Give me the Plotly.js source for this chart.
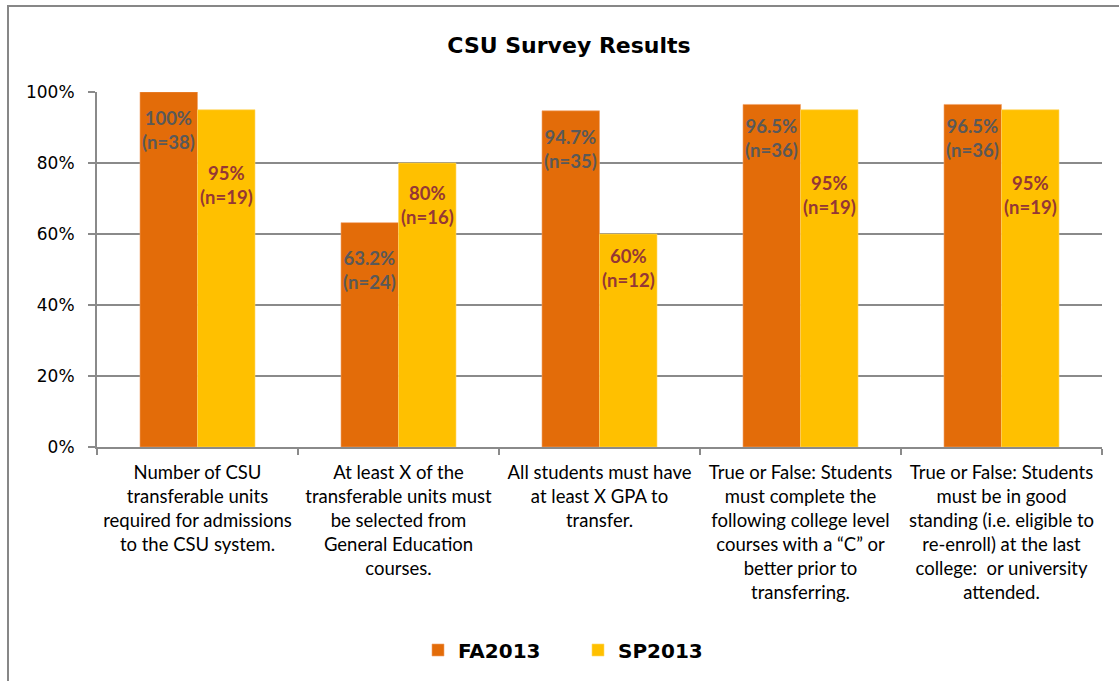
<!DOCTYPE html>
<html>
<head>
<meta charset="utf-8">
<script src="https://cdn.plot.ly/plotly-3.0.1.min.js"></script>
<style>
  html, body { margin: 0; padding: 0; overflow: hidden; background: #fff; }
  #chart { position: absolute; left: 0; top: 0; width: 1119px; height: 681px; }
  #frame { position: absolute; left: 7px; top: 5px; width: 1300px; height: 900px;
           border: 2px solid #878787; pointer-events: none; }
</style>
</head>
<body>
<div id="chart"></div>
<div id="frame"></div>
<script>
// ---- data ----
const categories = [
  "Number of CSU<br>transferable units<br>required for admissions<br>to the CSU system.",
  "At least X of the<br>transferable units must<br>be selected from<br>General Education<br>courses.",
  "All students must have<br>at least X GPA to<br>transfer.",
  "True or False: Students<br>must complete the<br>following college level<br>courses with a \u201cC\u201d or<br>better prior to<br>transferring.",
  "True or False: Students<br>must be in good<br>standing (i.e. eligible to<br>re-enroll) at the last<br>college:  or university<br>attended."
];
const seriesNames = ["FA2013", "SP2013"];
const fa2013 = [100, 63.2, 94.7, 96.5, 96.5];
const sp2013 = [95, 80, 60, 95, 95];
const faN = [38, 24, 35, 36, 36];
const spN = [19, 16, 12, 19, 19];
const yTickVals = [0, 20, 40, 60, 80, 100];
const yTickText = ["0%", "20%", "40%", "60%", "80%", "100%"];

// ---- styling ----
const faColor = "#E36C09";
const spColor = "#FFC000";
const faLabelColor = "#595959";
const spLabelColor = "#953735";
const gridColor = "#8a8a8a";
const bargap = 0.428;
// label offsets (px below bar top of first text line)
const faLabelOffset = [26, 35, 26, 22, 22];
const spLabelOffset = [63, 30, 22, 73, 73];

function fmt(v) { return (Math.round(v * 10) / 10) + "%"; }

const traces = [
  { type: "bar", name: seriesNames[0], x: categories, y: fa2013,
    marker: { color: faColor, line: { color: "#F2A36A", width: 0.6 } }, hoverinfo: "none" },
  { type: "bar", name: seriesNames[1], x: categories, y: sp2013,
    marker: { color: spColor, line: { color: "#FFD966", width: 0.6 } }, hoverinfo: "none" }
];

const annotations = [];
const half = (1 - bargap) / 4;
const lblFont = { family: "Lato, 'Liberation Sans', sans-serif", size: 18.5, weight: 700 };
for (let i = 0; i < categories.length; i++) {
  annotations.push({
    x: i - half, y: fa2013[i], xref: "x", yref: "y",
    text: "<b>" + fmt(fa2013[i]) + "<br>(n=" + faN[i] + ")</b>",
    showarrow: false, xanchor: "center", yanchor: "middle",
    yshift: -(faLabelOffset[i] + 12),
    font: Object.assign({}, lblFont, { color: faLabelColor })
  });
  annotations.push({
    x: i + half, y: sp2013[i], xref: "x", yref: "y",
    text: "<b>" + fmt(sp2013[i]) + "<br>(n=" + spN[i] + ")</b>",
    showarrow: false, xanchor: "center", yanchor: "middle",
    yshift: -(spLabelOffset[i] + 12),
    font: Object.assign({}, lblFont, { color: spLabelColor })
  });
}

const layout = {
  width: 1119, height: 681,
  margin: { l: 97, r: 17, t: 92, b: 234, autoexpand: false },
  paper_bgcolor: "rgba(0,0,0,0)", plot_bgcolor: "#fff",
  barmode: "group", bargap: bargap, bargroupgap: 0,
  title: { text: "<b>CSU Survey Results</b>", x: 569 / 1119, xanchor: "center", xref: "container",
           y: 1 - 45 / 681, yanchor: "middle", yref: "container",
           font: { family: "'DejaVu Sans', sans-serif", size: 22, color: "#000" } },
  xaxis: {
    type: "category", tickson: "boundaries", ticks: "outside", ticklen: 6, tickwidth: 2,
    tickcolor: gridColor, showline: true, linecolor: gridColor, linewidth: 2,
    showgrid: false, ticklabelstandoff: 8, automargin: false,
    tickfont: { family: "Lato, 'Liberation Sans', sans-serif", size: 18.5, color: "#000" }
  },
  yaxis: {
    range: [0, 100], tickvals: yTickVals, ticktext: yTickText,
    ticks: "outside", ticklen: 7, tickwidth: 2, tickcolor: gridColor,
    showline: true, linecolor: gridColor, linewidth: 2, automargin: false,
    showgrid: true, gridcolor: gridColor, gridwidth: 2, zeroline: false,
    ticklabelstandoff: 10,
    tickfont: { family: "'DejaVu Sans', sans-serif", size: 17, color: "#000" }
  },
  legend: { orientation: "h", x: 578 / 1119, xanchor: "center", xref: "container",
            y: 1 - 650 / 681, yanchor: "middle", yref: "container",
            font: { family: "'DejaVu Sans', sans-serif", size: 20, color: "#000", weight: 700 },
            itemwidth: 30, entrywidth: 115, entrywidthmode: "pixels" },
  annotations: annotations,
  showlegend: true
};

Plotly.newPlot("chart", traces, layout, { displayModeBar: false, staticPlot: true });
</script>
</body>
</html>
